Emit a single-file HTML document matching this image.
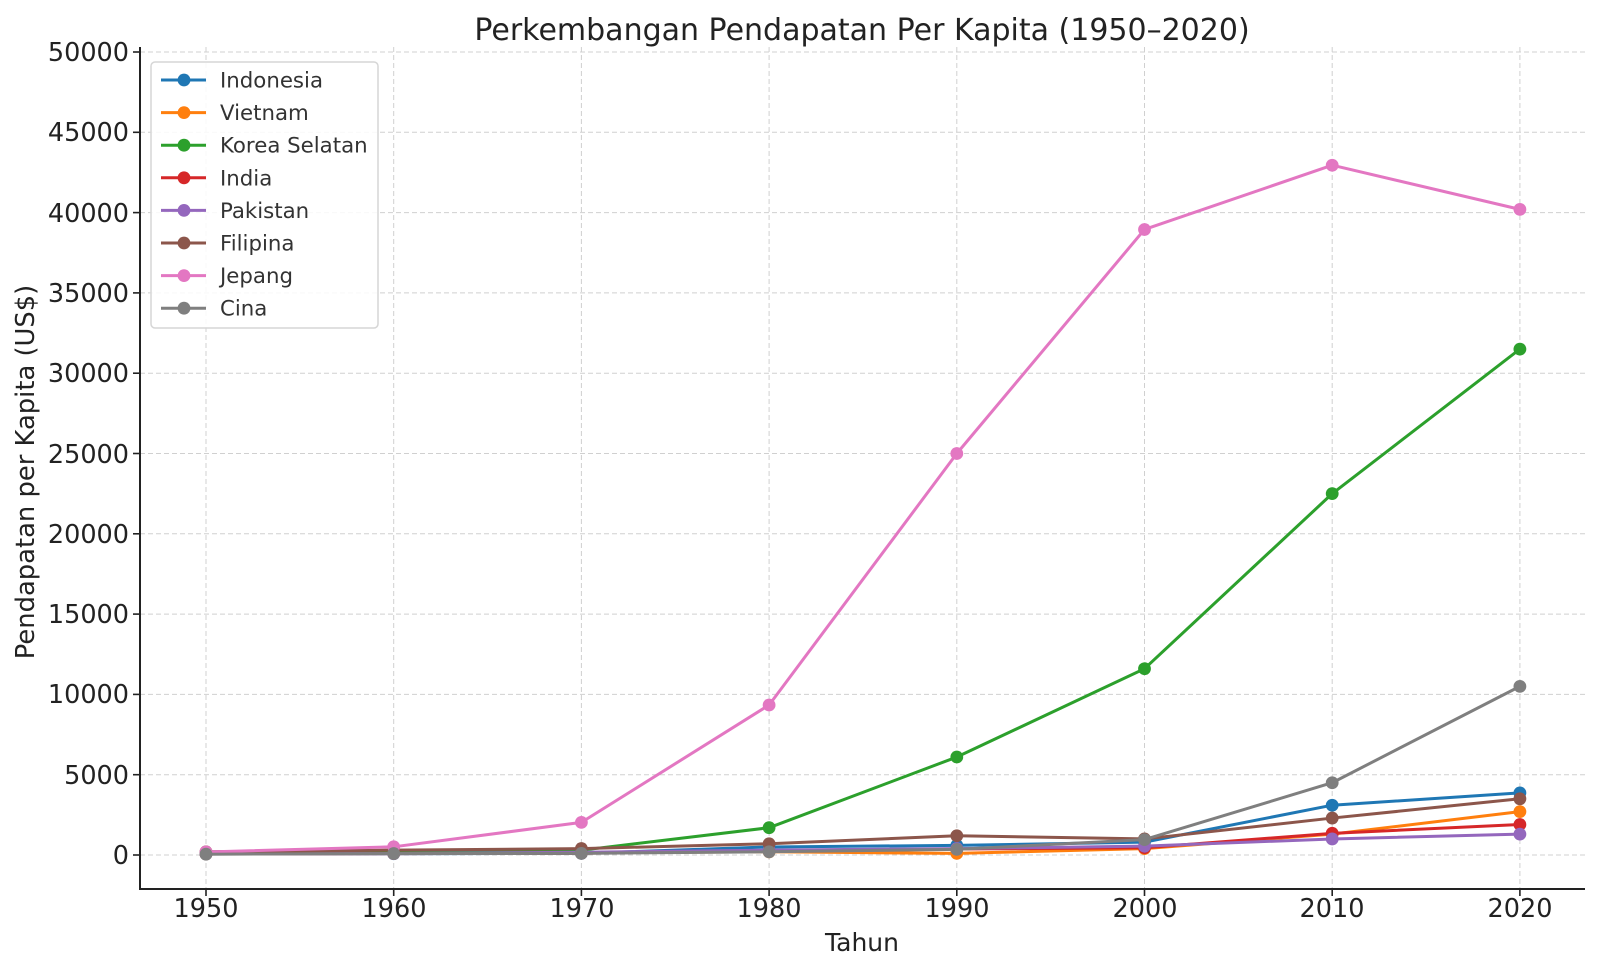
<!DOCTYPE html>
<html><head><meta charset="utf-8"><style>
html,body{margin:0;padding:0;background:#fff;}
svg{display:block;font-family:"DejaVu Sans","Liberation Sans",sans-serif;}
</style></head><body>
<svg id="s" width="1600" height="971" viewBox="0 0 1600 971" xmlns="http://www.w3.org/2000/svg">
<rect width="1600" height="971" fill="#fff"/>
<g id="grid" stroke="#d0d0d0" stroke-width="1" stroke-dasharray="5,3"></g>
<g id="series"></g>
<line x1="140" y1="47" x2="140" y2="890" stroke="#222" stroke-width="2"/>
<line x1="139" y1="889" x2="1585" y2="889" stroke="#222" stroke-width="2"/>
<g id="ticks" stroke="#222" stroke-width="1.6"></g>
<g font-size="25.5" fill="#222" text-anchor="end">
<text x="129" y="864">0</text>
<text x="129" y="784">5000</text>
<text x="129" y="703">10000</text>
<text x="129" y="623">15000</text>
<text x="129" y="543">20000</text>
<text x="129" y="463">25000</text>
<text x="129" y="382">30000</text>
<text x="129" y="302">35000</text>
<text x="129" y="222">40000</text>
<text x="129" y="141">45000</text>
<text x="129" y="61">50000</text>
</g>
<g font-size="25.5" fill="#222" text-anchor="middle">
<text x="206" y="917">1950</text>
<text x="394" y="917">1960</text>
<text x="582" y="917">1970</text>
<text x="769" y="917">1980</text>
<text x="957" y="917">1990</text>
<text x="1145" y="917">2000</text>
<text x="1332" y="917">2010</text>
<text x="1520" y="917">2020</text>
</g>
<text x="862" y="951" font-size="25" fill="#222" text-anchor="middle">Tahun</text>
<text transform="translate(34,472) rotate(-90)" font-size="25.8" fill="#222" text-anchor="middle">Pendapatan per Kapita (US$)</text>
<text x="862" y="40" font-size="30" fill="#222" text-anchor="middle">Perkembangan Pendapatan Per Kapita (1950–2020)</text>
<rect x="151" y="62" width="227" height="266" rx="4" fill="#fff" fill-opacity="0.85" stroke="#d6d6d6" stroke-width="1.5"/>
<g id="legend" font-size="21.3" fill="#333"></g>
</svg>
<script>
var ns="http://www.w3.org/2000/svg";
function X(yr){return 206+(yr-1950)*18.77;}
function Y(v){return 855-v*0.01606;}
function el(p,t,a){var e=document.createElementNS(ns,t);for(var k in a)e.setAttribute(k,a[k]);p.appendChild(e);return e;}
var g=document.getElementById('grid'),tk=document.getElementById('ticks');
for(var yr=1950;yr<=2020;yr+=10){el(g,'line',{x1:X(yr),x2:X(yr),y1:47,y2:889});el(tk,'line',{x1:X(yr),x2:X(yr),y1:889,y2:896});}
for(var v=0;v<=50000;v+=5000){el(g,'line',{x1:140,x2:1585,y1:Y(v),y2:Y(v)});el(tk,'line',{x1:133,x2:140,y1:Y(v),y2:Y(v)});}
var S=[
["Indonesia","#1f77b4",[70,80,100,500,600,800,3100,3870]],
["Vietnam","#ff7f0e",[90,100,150,200,100,400,1300,2700]],
["Korea Selatan","#2ca02c",[100,150,300,1700,6100,11600,22500,31500]],
["India","#d62728",[60,85,110,270,370,450,1350,1900]],
["Pakistan","#9467bd",[80,90,170,300,400,550,1000,1300]],
["Filipina","#8c564b",[200,300,400,700,1200,1000,2300,3500]],
["Jepang","#e377c2",[190,510,2030,9340,25000,38950,42950,40200]],
["Cina","#7f7f7f",[50,90,100,200,350,959,4500,10500]]];
var sg=document.getElementById('series'),lg=document.getElementById('legend');
S.forEach(function(s,i){
 var pts=s[2].map(function(v,j){return X(1950+10*j)+","+Y(v);}).join(" ");
 el(sg,'polyline',{points:pts,fill:"none",stroke:s[1],"stroke-width":3,"stroke-linejoin":"round"});
 s[2].forEach(function(v,j){el(sg,'circle',{cx:X(1950+10*j),cy:Y(v),r:6.4,fill:s[1]});});
 var ly=80+i*32.6;
 el(lg,'line',{x1:161,x2:206,y1:ly,y2:ly,stroke:s[1],"stroke-width":3});
 el(lg,'circle',{cx:184,cy:ly,r:6.4,fill:s[1]});
 var t=el(lg,'text',{x:220,y:ly+7.5});t.textContent=s[0];
});
</script>
</body></html>
